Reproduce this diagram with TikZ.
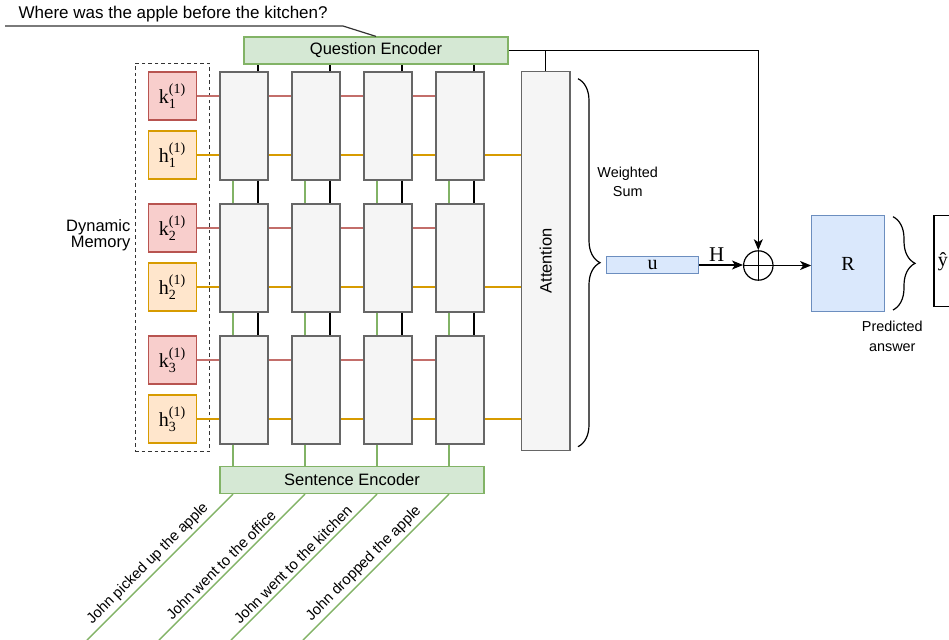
\documentclass[tikz,border=0pt]{standalone}
\usepackage{amsmath}
\usepackage{fontspec}
\setmainfont{Liberation Sans}
\newfontfamily\tnr{Liberation Serif}
\usetikzlibrary{positioning,calc,fit}
\usetikzlibrary{arrows.meta,decorations.pathreplacing}
\definecolor{CellFill}{HTML}{F5F5F5}
\definecolor{CellLine}{HTML}{666666}
\definecolor{KeyFill}{HTML}{F8CECC}
\definecolor{KeyLine}{HTML}{B85450}
\definecolor{HidFill}{HTML}{FFE6CC}
\definecolor{HidLine}{HTML}{D79B00}
\definecolor{EncFill}{HTML}{D5E8D4}
\definecolor{EncLine}{HTML}{82B366}
\definecolor{OutFill}{HTML}{DAE8FC}
\definecolor{OutLine}{HTML}{6C8EBF}
\newcommand{\memsym}[2]{{\tnr$\text{#1}^{\text{(1)}}_{\text{#2}}$}}
\newcommand{\bigsans}{\fontsize{16.5}{16}\selectfont}
\newcommand{\smallsans}{\fontsize{14.4}{19.5}\selectfont}
\newcommand{\serifbig}{\tnr\fontsize{20}{22}\selectfont}
\tikzset{
  cell/.style={draw=CellLine,fill=CellFill,minimum width=48pt,minimum height=108pt,inner sep=0pt},
  keybox/.style={draw=KeyLine,fill=KeyFill,minimum size=48pt,inner sep=0pt,font=\serifbig},
  hidbox/.style={draw=HidLine,fill=HidFill,minimum size=48pt,inner sep=0pt,font=\serifbig},
  enc/.style={draw=EncLine,fill=EncFill,minimum width=264pt,minimum height=27pt,inner sep=0pt,font=\bigsans},
  outbox/.style={draw=OutLine,fill=OutFill,inner sep=0pt,font=\serifbig},
  keyline/.style={draw=KeyLine!85,line width=1.6pt},
  hidline/.style={draw=HidLine,line width=1.6pt},
  encline/.style={draw=EncLine,line width=1.5pt},
  arr/.style={-{Stealth[length=11pt,width=9pt,inset=3pt]}},
  bracket/.style={decorate,decoration={brace,amplitude=22pt}},
}

\begin{document}
\begin{tikzpicture}[x=1pt,y=-1pt,line width=1.2pt]
\useasboundingbox (0,0) rectangle (949,639);
\clip (0,0) rectangle (949,639);
% encoders
\node[enc] (qenc) at (376,50.5) {Question Encoder};
\node[enc] (senc) at (352,480) {Sentence Encoder};
\node[anchor=west,inner sep=0pt,font=\fontsize{17}{19}\selectfont] (qtext) at (18,14) {Where was the apple before the kitchen?};
\coordinate (qbend) at (343,26);
\coordinate (qend) at (5,26);
\draw[black!80] (qenc.north) -- (qbend) -- (qend);
% memory and cells
\foreach \r/\y in {1/126,2/258,3/390} {
  \foreach \c/\x in {1/244,2/316,3/388,4/460}
    \node[cell] (c\r\c) at (\x,\y) {};
  \node[keybox] (k\r) at (172.3,\y-30) {\memsym{k}{\r}};
  \node[hidbox] (h\r) at (172.3,\y+29) {\memsym{h}{\r}};
}
\node[draw=black!80,dashed,dash pattern=on 3.5pt off 3pt,line width=1.1pt,fit=(k1)(h3),inner xsep=12.5pt,inner ysep=8pt] (mem) {};
\node[anchor=east,align=right,inner sep=0pt,font=\bigsans] (memlbl) at (131,235) {Dynamic\\Memory};
\node[cell,minimum width=48.7pt,minimum height=379.4pt,font=\bigsans] (att) at (545.7,261) {\rotatebox{90}{Attention}};
% horizontal lines
\foreach \r in {1,2,3} {
  \draw[keyline] (k\r.east) -- (k\r.east -| c\r1.west);
  \draw[hidline] (h\r.east) -- (h\r.east -| c\r1.west);
  \foreach \c [count=\n from 2] in {1,2,3} {
    \draw[keyline] (k\r.east -| c\r\c.east) -- (k\r.east -| c\r\n.west);
    \draw[hidline] (h\r.east -| c\r\c.east) -- (h\r.east -| c\r\n.west);
  }
  \draw[hidline] (h\r.east -| c\r4.east) -- (h\r.east -| att.west);
}
% vertical lines
\foreach \c in {1,...,4} {
  \path (c1\c.north) ++(14,0) coordinate (qt\c);
  \draw (qt\c) -- (qt\c |- qenc.south);
}
\foreach \r [count=\s from 2] in {1,2}
  \foreach \c in {1,...,4} {
    \path (c\r\c.south) ++(-11,0) coordinate (ga) (c\r\c.south) ++(14,0) coordinate (bk);
    \draw[encline] (ga) -- (ga |- c\s\c.north);
    \draw (bk) -- (bk |- c\s\c.north);
  }
% sentences
\foreach \c/\txt in {1/John picked up the apple,2/John went to the office,3/John went to the kitchen,4/John dropped the apple} {
  \path (c3\c.south) ++(-11,0) coordinate (g\c);
  \draw[encline] (g\c) -- (g\c |- senc.north);
  \path (g\c |- senc.south) ++(-146,146) coordinate (s\c);
  \draw[encline] (s\c) -- (g\c |- senc.south)
    node[pos=0.47,sloped,above,font=\fontsize{14.8}{17}\selectfont] {\txt};
}
% output part
\node[outbox,minimum width=92pt,minimum height=17pt] (u) at (652.7,265) {u};
\node[circle,draw,minimum size=29.4pt,inner sep=0pt] (plus) at (758.3,265.5) {};
\draw (plus.north) -- (plus.south) (plus.west) -- (plus.east);
\node[outbox,minimum width=72.6pt,minimum height=96.4pt] (R) at (848,263.5) {R};
\node[draw=black,fill=white,minimum height=91pt,text width=60pt,align=left,inner xsep=4pt,anchor=west,font=\serifbig] (yhat) at (933.3,261.2) {ŷ};
\draw (att.north) -- (att.north |- qenc.east);
\draw[arr] (qenc.east) -| (plus.north);
\draw[arr] (u.east) -- (u.east -| plus.west) node[above,pos=0.4,font=\tnr\fontsize{21}{22}\selectfont] {H};
\draw[arr] (plus.east) -- (plus.east -| R.west);
\coordinate (wtop) at (578,78.7);
\coordinate (wbot) at (578,446.7);
\draw[bracket] (wtop) -- (wbot);
\node[align=center,font=\smallsans] (wsum) at (627.7,182) {Weighted\\Sum};
\coordinate (rtop) at (893,216.7);
\coordinate (rbot) at (893,310);
\draw[bracket] (rtop) -- (rbot);
\node[align=center,font=\smallsans] (pans) at (892.3,336.5) {Predicted\\answer};
\end{tikzpicture}
\end{document}
